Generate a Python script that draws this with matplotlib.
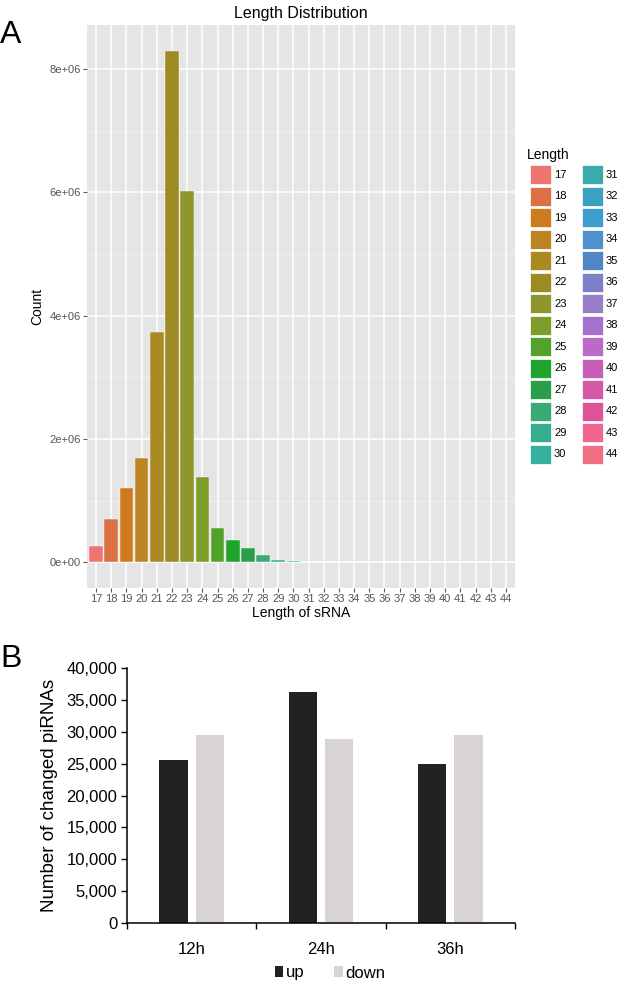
import numpy as np
import matplotlib
matplotlib.use('Agg')
import matplotlib.pyplot as plt
from matplotlib.patches import Rectangle

plt.rcParams['font.family'] = ['Liberation Sans', 'DejaVu Sans']

# panel A: sRNA length distribution
lengths = list(range(17, 45))
counts = [260000, 710000, 1210000, 1700000, 3730000, 8300000, 6030000, 1380000,
          550000, 370000, 240000, 115000, 40000, 18000, 9000, 7000, 6000, 5500,
          5000, 5000, 5000, 5000, 5000, 5000, 5000, 5000, 5000, 5000]
y_ticks_a = [0, 2e6, 4e6, 6e6, 8e6]
y_labels_a = ['0e+00', '2e+06', '4e+06', '6e+06', '8e+06']

# panel B: changed piRNAs
times = ['12h', '24h', '36h']
up = [25500, 36200, 25000]
down = [29500, 28900, 29500]

# fill colours as printed (toned-down ggplot hue palette)
cols = ['#EE7470', '#DB7145', '#CE7B1F', '#BE8424', '#AB8922', '#9C8B25', '#8F962D',
        '#7D9C2A', '#53A22C', '#1FA52D', '#2B9E4B', '#3AAA72', '#36AE8D', '#34B1A1',
        '#3AAAAA', '#3AA2C0', '#3C9ECD', '#4D91CD', '#5186C3', '#7B80C9', '#997EC9',
        '#A670CE', '#BB6AC8', '#C95DB9', '#D55AA6', '#DF5297', '#F06591', '#F06F82']

W, H = 629, 985
fig = plt.figure(figsize=(W / 100, H / 100), dpi=100)

# ---------- panel A ----------
axa = fig.add_axes([87 / W, 1 - 588 / H, 428 / W, 563 / H])
xpos = np.arange(len(lengths))
axa.set_facecolor('#E5E5E5')
ymax = max(counts)
axa.set_ylim(-0.05 * ymax, 1.05 * ymax)
axa.set_xlim(-0.6, len(lengths) - 0.4)
for yv in np.arange(1e6, 9e6, 2e6):
    axa.axhline(yv, color='#F2F2F2', lw=0.6, zorder=0.5)
for yv in y_ticks_a:
    axa.axhline(yv, color='white', lw=1.1, zorder=0.6)
for xv in xpos:
    axa.axvline(xv, color='white', lw=1.1, zorder=0.6)
axa.bar(xpos, counts, width=0.9, color=cols, edgecolor='white', linewidth=0.3, zorder=2)
axa.set_xticks(xpos)
axa.set_xticklabels([str(v) for v in lengths])
axa.set_yticks(y_ticks_a)
axa.set_yticklabels(y_labels_a)
axa.tick_params(colors='#5A5A5A', labelcolor='#555555', labelsize=8, length=3, width=0.8, pad=1.5)
for s in axa.spines.values():
    s.set_visible(False)
axa.set_title('Length Distribution', fontsize=11.5, pad=5)
axa.set_xlabel('Length of sRNA', fontsize=10, labelpad=1)
axa.set_ylabel('Count', fontsize=10, labelpad=4)

# legend drawn by hand (ggplot style keys)
fig.text(527 / W, 1 - 155 / H, 'Length', fontsize=10, ha='left', va='center')
nrow = 14
for i, (lab, c) in enumerate(zip(lengths, cols)):
    col, row = divmod(i, nrow)
    kx = 530 + col * 52
    ky = 165 + row * 21.5
    fig.add_artist(Rectangle((kx / W, 1 - (ky + 19.3) / H), 20.7 / W, 19.3 / H,
                             transform=fig.transFigure, facecolor=c,
                             edgecolor='white', linewidth=0.5))
    fig.text((kx + 24) / W, 1 - (ky + 9.8) / H, str(lab), fontsize=8,
             ha='left', va='center')

fig.text(0 / W, 1 - 43 / H, 'A', fontsize=23, ha='left', va='baseline')

# ---------- panel B ----------
axb = fig.add_axes([127 / W, 1 - 923 / H, 388 / W, 255 / H])
cx = np.arange(len(times)) + 0.5
bw = 0.22
axb.bar(cx - 0.14, up, width=bw, color='#232221', label='up')
axb.bar(cx + 0.14, down, width=bw, color='#D8D4D4', label='down')
axb.set_xlim(0, len(times))
axb.set_ylim(0, 40000)
axb.set_yticks(np.arange(0, 40001, 5000))
axb.set_yticklabels([f'{v:,}' for v in range(0, 40001, 5000)])
axb.set_xticks(np.arange(len(times) + 1))
axb.set_xticklabels([])
axb.set_xticks(cx, minor=True)
axb.set_xticklabels(times, minor=True)
axb.tick_params(axis='x', which='minor', length=0, labelsize=12, pad=14)
axb.tick_params(axis='x', which='major', length=4, width=1)
axb.tick_params(axis='y', length=4, width=1, labelsize=12, pad=3)
for s in ['top', 'right']:
    axb.spines[s].set_visible(False)
for s in ['left', 'bottom']:
    axb.spines[s].set_linewidth(1.1)
axb.set_ylabel('Number of changed piRNAs', fontsize=13.5, labelpad=6)
axb.legend(loc='center', bbox_to_anchor=(330 / W, 1 - 973 / H), bbox_transform=fig.transFigure,
           ncol=2, frameon=False, fontsize=12, handlelength=0.5, handleheight=0.6,
           handletextpad=0.15, columnspacing=1.8, borderpad=0)

fig.text(0 / W, 1 - 667 / H, 'B', fontsize=23, ha='left', va='baseline')

fig.savefig('out.png', dpi=100)
